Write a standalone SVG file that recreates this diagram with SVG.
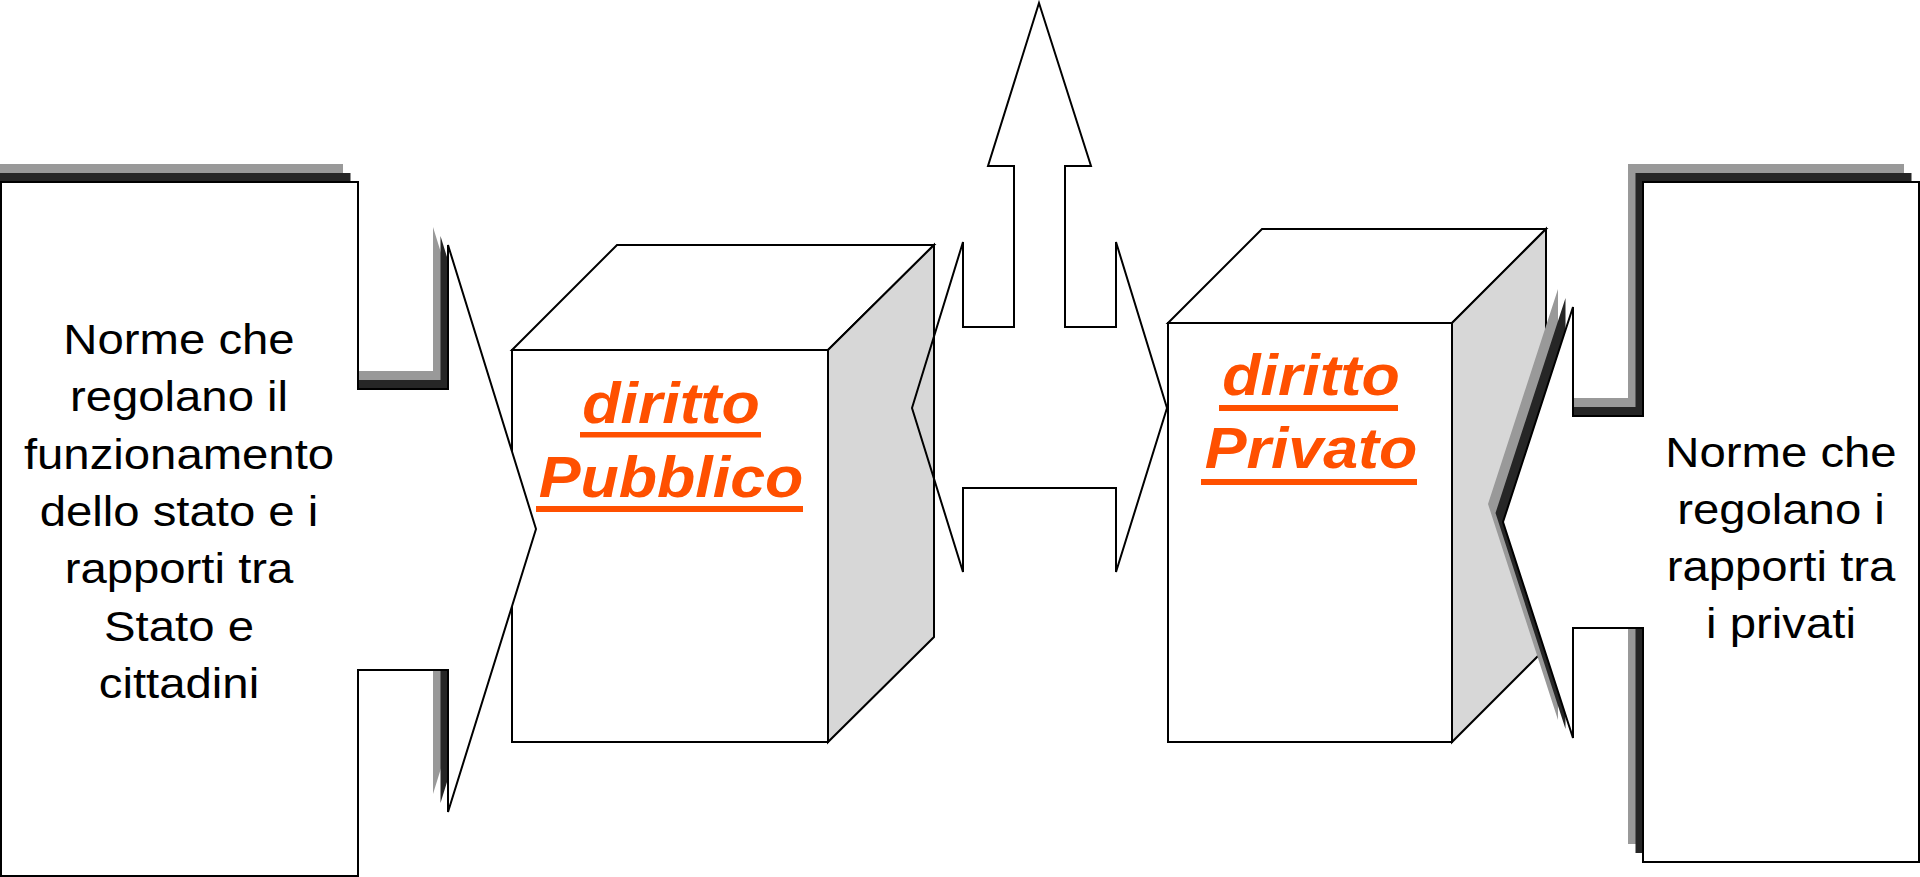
<svg xmlns="http://www.w3.org/2000/svg" width="1920" height="877" viewBox="0 0 1920 877">
<style>
.ln{stroke:#000;stroke-width:2;stroke-linejoin:miter}
.wh{fill:#fff}
.side{fill:#d7d7d7}
.sh1{fill:#999999}
.sh2{fill:#262626}
.txt{font-family:"Liberation Sans",Arial,sans-serif;font-size:43px;fill:#000;text-anchor:middle}
.lbl{font-family:"Liberation Sans",Arial,sans-serif;font-size:57px;font-weight:bold;font-style:italic;fill:#FF5000;text-anchor:middle}
.ul{fill:#FF5000}
</style>
<defs>
<path id="leftShape" d="M1,182 L358,182 L358,389 L448,389 L448,245 L536,529 L448,812 L448,670 L358,670 L358,876 L1,876 Z"/>
<path id="rightShape" d="M1643,182 L1919,182 L1919,862 L1643,862 L1643,628 L1573,628 L1573,738 L1503,522 L1573,307 L1573,416 L1643,416 Z"/>
</defs>
<rect width="1920" height="877" fill="#fff"/>

<g id="cube-pubblico">
<polygon class="wh ln" points="512,350 617,245 934,245 828,350"/>
<polygon class="side ln" points="828,350 934,245 934,637 828,742"/>
<rect class="wh ln" x="512" y="350" width="316" height="392"/>
<g transform="translate(671,0) scale(1.1,1)">
<text class="lbl" x="0" y="423">diritto</text>
<text class="lbl" x="0" y="497">Pubblico</text>
</g>
<rect class="ul" x="580" y="432" width="181" height="5.5"/>
<rect class="ul" x="536" y="506" width="267" height="6"/>
</g>

<g id="cube-privato">
<polygon class="wh ln" points="1168,323 1262,229 1546,229 1452,323"/>
<polygon class="side ln" points="1452,323 1546,229 1546,648 1452,742"/>
<rect class="wh ln" x="1168" y="323" width="284" height="419"/>
<g transform="translate(1311,0) scale(1.1,1)">
<text class="lbl" x="0" y="395">diritto</text>
<text class="lbl" x="0" y="468">Privato</text>
</g>
<rect class="ul" x="1219" y="405" width="179" height="6"/>
<rect class="ul" x="1201" y="479" width="216" height="6"/>
</g>

<g id="connectors">
<path class="ln" fill="none" d="M1039,3 L1091,166 L1065,166 L1065,327 L1116,327 L1116,242 L1167,408 L1116,572 L1116,488 L963,488 L963,572 L912,408 L963,242 L963,327 L1014,327 L1014,166 L988,166 Z"/>
</g>

<g id="callout-left">
<use href="#leftShape" class="sh1" transform="translate(-15,-18)"/>
<use href="#leftShape" class="sh2" transform="translate(-7.5,-9)"/>
<use href="#leftShape" class="wh ln"/>
<g class="txt" transform="translate(179,0) scale(1.1,1)">
<text x="0" y="354">Norme che</text>
<text x="0" y="411">regolano il</text>
<text x="0" y="469">funzionamento</text>
<text x="0" y="526">dello stato e i</text>
<text x="0" y="583">rapporti tra</text>
<text x="0" y="641">Stato e</text>
<text x="0" y="698">cittadini</text>
</g>
</g>

<g id="callout-right">
<use href="#rightShape" class="sh1" transform="translate(-15,-18)"/>
<use href="#rightShape" class="sh2" transform="translate(-7.5,-9)"/>
<use href="#rightShape" class="wh ln"/>
<g class="txt" transform="translate(1781,0) scale(1.1,1)">
<text x="0" y="467">Norme che</text>
<text x="0" y="524">regolano i</text>
<text x="0" y="581">rapporti tra</text>
<text x="0" y="638">i privati</text>
</g>
</g>
</svg>
